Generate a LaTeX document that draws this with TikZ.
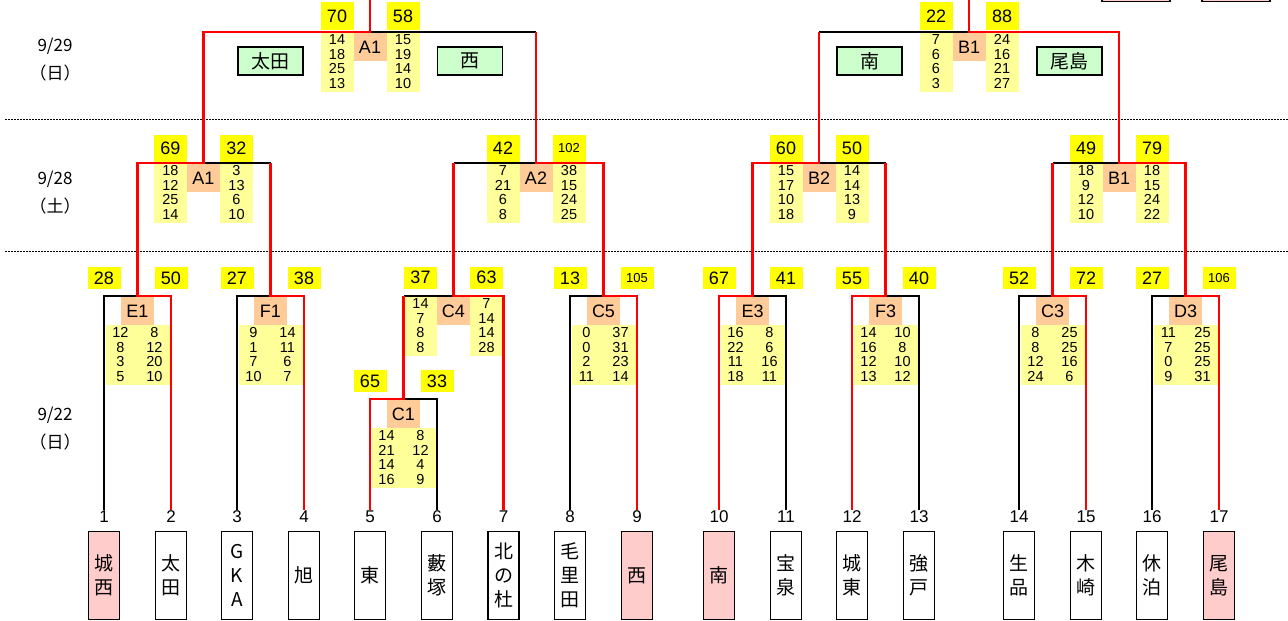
\documentclass[tikz,border=0pt]{standalone}
\usepackage{fontspec}
\setmainfont{Liberation Sans}
\newfontfamily\jpf{Noto Sans CJK JP}
\definecolor{ylw}{HTML}{FFFF00}
\definecolor{lylw}{HTML}{FFFF99}
\definecolor{org}{HTML}{FFCC99}
\definecolor{grn}{HTML}{CCFFCC}
\definecolor{pnk}{HTML}{FFCCCC}
\definecolor{rd}{HTML}{FF0000}
% first-round style match: #1 name, #2 label, #3 left x, #4 right x, #5/#6 totals, #7/#8 set lists
\newcommand\MatchOne[8]{%
  \coordinate (#1L) at (#3,\by);
  \coordinate (#1R) at (#4,\by);
  \coordinate (#1M) at ({(#3+#4)/2},\by);
  \fill[lylw] (#3+1.5,\by+29) rectangle (#4-1.5,\by+89);
  \node[lab] (#1lab) at ({(#3+#4)/2},\by+0.5) {#2};
  \node[sc] (#1a) at (#3,\by-18) {#5};
  \node[sc] (#1b) at (#4,\by-18) {#6};
  \node[pts] (#1p) at ({(#3+#4)/2-17},\by+58.5) {#7};
  \node[pts] (#1q) at ({(#3+#4)/2+17},\by+58.5) {#8};
}
% later-round style match: #1 name, #2 label, #3 left x, #4 mid x, #5 right x, #6/#7 totals, #8/#9 set lists
\newcommand\MatchTwo[9]{%
  \coordinate (#1L) at (#3,\by);
  \coordinate (#1M) at (#4,\by);
  \coordinate (#1R) at (#5,\by);
  \fill[lylw] (#4-49.5,\by) rectangle (#4-16.5,\by+60);
  \fill[lylw] (#4+16.5,\by) rectangle (#4+49.5,\by+60);
  \node[lab] (#1lab) at (#4,\by+0.5) {#2};
  \node[sc,minimum height=\yh pt] (#1a) at (#4-33,\by-\yo) {#6};
  \node[sc,minimum height=\yh pt] (#1b) at (#4+33,\by-\yo) {#7};
  \node[pts] (#1p) at (#4-33,\by+29.5) {#8};
  \node[pts] (#1q) at (#4+33,\by+29.5) {#9};
}
\begin{document}
\begin{tikzpicture}[x=1pt,y=-1pt,
  bk/.style={draw=black,line width=1.9pt},
  rl/.style={draw=rd,line width=2.9pt,line join=miter},
  sc/.style={fill=ylw,minimum width=33pt,minimum height=22pt,inner sep=0pt,font=\fontsize{18}{18}\selectfont},
  lab/.style={fill=org,minimum width=33pt,minimum height=28.5pt,inner sep=0pt,anchor=north,font=\fontsize{18}{18}\selectfont},
  pts/.style={inner sep=0pt,align=center,font=\fontsize{14.5}{14.6}\selectfont},
  team/.style={draw=black,line width=1.6pt,minimum width=31pt,minimum height=88pt,inner sep=0pt,align=center,font=\jpf\fontsize{19}{24}\selectfont},
  fin/.style={team,fill=pnk},
  num/.style={inner sep=1pt,font=\fontsize{17}{17}\selectfont},
  gbox/.style={draw=black,line width=1.8pt,fill=grn,minimum width=65pt,minimum height=28pt,inner sep=0pt,font=\jpf\fontsize{19}{19}\selectfont},
  dt/.style={align=center,font=\jpf\fontsize{17}{28}\selectfont},
  dotl/.style={draw=black,line width=1.5pt,dash pattern=on 2pt off 1pt}
]
\useasboundingbox (0,0) rectangle (1288,621);
\fill[white] (0,0) rectangle (1288,621);

% day separators
\draw[dotl] (5,119.5) -- (1288,119.5);
\draw[dotl] (5,251.5) -- (1288,251.5);

% dates
\node[dt] (d1) at (55,60) {9/29\\（日）};
\node[dt] (d2) at (55,192.5) {9/28\\（土）};
\node[dt] (d3) at (55,429) {9/22\\（日）};

% cut-off boxes at the top right
\draw[line width=1.8pt,fill=pnk] (1102,-20) rectangle (1170,1.5);
\draw[line width=1.8pt,fill=pnk] (1202,-20) rectangle (1270,1.5);

% teams
\foreach \i/\x/\t/\s in {1/104/城\\西/fin, 2/171/太\\田/team, 3/237/G\\K\\A/team, 4/304/旭/team,
  5/370/東/team, 6/437/藪\\塚/team, 7/503.5/北\\の\\杜/team, 8/570/毛\\里\\田/team, 9/637/西/fin,
  10/719/南/fin, 11/786/宝\\泉/team, 12/852/城\\東/team, 13/919/強\\戸/team,
  14/1019/生\\品/team, 15/1086/木\\崎/team, 16/1152/休\\泊/team, 17/1219/尾\\島/fin}{
  \node[num] (n\i) at (\x,517) {\i};
  \node[\s] (t\i) at (\x,575.5) {\t};
}

% first round
\def\by{296}
\MatchOne{E1}{E1}{104}{171}{28}{50}{12\\8\\3\\5}{8\\12\\20\\10}
\MatchOne{F1}{F1}{237}{304}{27}{38}{9\\1\\7\\10}{14\\11\\6\\7}
\MatchOne{C5}{C5}{570}{637}{13}{\fontsize{13}{13}\selectfont 105}{0\\0\\2\\11}{37\\31\\23\\14}
\MatchOne{E3}{E3}{719}{786}{67}{41}{16\\22\\11\\18}{8\\6\\16\\11}
\MatchOne{F3}{F3}{852}{919}{55}{40}{14\\16\\12\\13}{10\\8\\10\\12}
\MatchOne{C3}{C3}{1019}{1086}{52}{72}{8\\8\\12\\24}{25\\25\\16\\6}
\MatchOne{D3}{D3}{1152}{1219}{27}{\fontsize{13}{13}\selectfont 106}{11\\7\\0\\9}{25\\25\\25\\31}
\def\by{399}
\MatchOne{C1}{C1}{370}{437}{65}{33}{14\\21\\14\\16}{8\\12\\4\\9}
\def\by{296}\def\yo{18.5}\def\yh{22}
\MatchTwo{C4}{C4}{403.5}{453.5}{503.5}{37}{63}{14\\7\\8\\8}{7\\14\\14\\28}

% second round
\def\by{163}\def\yo{14.5}\def\yh{27}
\MatchTwo{Aone}{A1}{137.5}{203.5}{270.5}{69}{32}{18\\12\\25\\14}{3\\13\\6\\10}
\MatchTwo{Atwo}{A2}{453.5}{536}{603.5}{42}{\fontsize{13}{13}\selectfont 102}{7\\21\\6\\8}{38\\15\\24\\25}
\MatchTwo{Btwo}{B2}{752.5}{819}{885.5}{60}{50}{15\\17\\10\\18}{14\\14\\13\\9}
\MatchTwo{Bone}{B1}{1052.5}{1119}{1185.5}{49}{79}{18\\9\\12\\10}{18\\15\\24\\22}

% finals
\def\by{32}\def\yo{16}\def\yh{28}
\MatchTwo{FA}{A1}{203.5}{370}{536}{70}{58}{14\\18\\25\\13}{15\\19\\14\\10}
\MatchTwo{FB}{B1}{819}{969}{1119}{22}{88}{7\\6\\6\\3}{24\\16\\21\\27}
\node[gbox] (g1) at (270.5,61) {太田};
\node[gbox] (g2) at (470,61) {西};
\node[gbox] (g3) at (869.5,61) {南};
\node[gbox] (g4) at (1069.5,61) {尾島};
\coordinate (topA) at (370,-3);
\coordinate (topB) at (969,-3);

% losing paths (black)
\draw[bk] (n1.north -| E1L) -- (E1L) -- (E1M);
\draw[bk] (n3.north -| F1L) -- (F1L) -- (F1M);
\draw[bk] (n6.north -| C1R) -- (C1R) -- (C1M);
\draw[bk] (C4L) -- (C4M);
\draw[bk] (n8.north -| C5L) -- (C5L) -- (C5M);
\draw[bk] (n11.north -| E3R) -- (E3R) -- (E3M);
\draw[bk] (n13.north -| F3R) -- (F3R) -- (F3M);
\draw[bk] (n14.north -| C3L) -- (C3L) -- (C3M);
\draw[bk] (n16.north -| D3L) -- (D3L) -- (D3M);
\draw[bk] (AoneM) -- (AoneR);
\draw[bk] (AtwoL) -- (AtwoM);
\draw[bk] (BtwoM) -- (BtwoR);
\draw[bk] (BoneL) -- (BoneM);
\draw[bk] (FAM) -- (FAR);
\draw[bk] (FBL) -- (FBM);

% winning paths (red)
\draw[rl] (n2.north -| E1R) -- (E1R) -- (E1M) -- (AoneL) -- (AoneM) -- (FAL) -- (FAM) -- (topA);
\draw[rl] (n4.north -| F1R) -- (F1R) -- (F1M) -- (AoneR);
\draw[rl] (n5.north -| C1L) -- (C1L) -- (C1M) -- (C4L);
\draw[rl] (n7.north -| C4R) -- (C4R) -- (C4M) -- (AtwoL);
\draw[rl] (n9.north -| C5R) -- (C5R) -- (C5M) -- (AtwoR) -- (AtwoM) -- (FAR);
\draw[rl] (n10.north -| E3L) -- (E3L) -- (E3M) -- (BtwoL) -- (BtwoM) -- (FBL);
\draw[rl] (n12.north -| F3L) -- (F3L) -- (F3M) -- (BtwoR);
\draw[rl] (n15.north -| C3R) -- (C3R) -- (C3M) -- (BoneL);
\draw[rl] (n17.north -| D3R) -- (D3R) -- (D3M) -- (BoneR) -- (BoneM) -- (FBR) -- (FBM) -- (topB);
\end{tikzpicture}
\end{document}
